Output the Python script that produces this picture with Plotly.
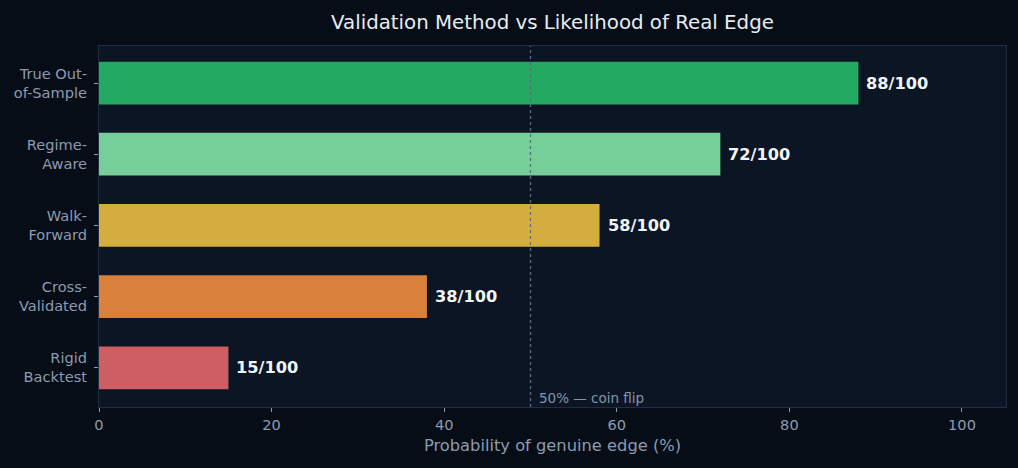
import plotly.graph_objects as go

methods = ["Rigid<br>Backtest", "Cross-<br>Validated", "Walk-<br>Forward", "Regime-<br>Aware", "True Out-<br>of-Sample"]
scores = [15, 38, 58, 72, 88]
colors = ["#cd5f62", "#d9813a", "#d3ae3e", "#76cf98", "#24a962"]
xticks = [0, 20, 40, 60, 80, 100]

FONT = "DejaVu Sans"
TICK = "#8b9bb0"

ypos = list(range(len(methods)))

fig = go.Figure()
fig.add_trace(go.Bar(
    x=scores, y=ypos, orientation="h",
    marker=dict(color=colors, line=dict(width=0)),
    width=0.6, hoverinfo="skip",
))

for yi, v in zip(ypos, scores):
    fig.add_annotation(x=v, y=yi, text=f"<b>{v}/100</b>", showarrow=False,
                       xanchor="left", xshift=6, yanchor="middle",
                       font=dict(family=FONT, size=16.2, color="#f2f5f8"))

fig.add_shape(type="line", x0=50, x1=50, y0=0, y1=1, yref="paper",
              line=dict(color="#5c6b80", width=1.3, dash="dot"))
fig.add_annotation(x=50, y=0, yref="paper", text="50% — coin flip", showarrow=False,
                   xanchor="left", yanchor="bottom", xshift=7, yshift=-1,
                   font=dict(family=FONT, size=13.5, color="#8595aa"))

fig.update_layout(
    width=1018, height=468,
    paper_bgcolor="#070d17", plot_bgcolor="#0b1524",
    margin=dict(l=99, r=12, t=46, b=61),
    showlegend=False, bargap=0.4,
    title=dict(text="Validation Method vs Likelihood of Real Edge",
               x=(99 + 1006) / 2 / 1018, xanchor="center", y=1 - 22 / 468, yanchor="middle",
               font=dict(family=FONT, size=19.8, color="#e6ecf2")),
    font=dict(family=FONT),
    xaxis=dict(range=[0, 105.1], tickvals=xticks, ticks="outside", ticklen=4, tickcolor=TICK,
               tickfont=dict(size=14.6, color=TICK, family=FONT),
               showgrid=False, zeroline=False, showline=True, linecolor="#1f2e42", mirror=True,
               title=dict(text="Probability of genuine edge (%)", standoff=8,
                          font=dict(size=16.3, color=TICK, family=FONT))),
    yaxis=dict(range=[-0.55, 4.52], tickvals=ypos, ticktext=methods, ticks="outside",
               ticklen=4, tickcolor=TICK, tickfont=dict(size=14.6, color=TICK, family=FONT),
               ticklabelstandoff=4,
               showgrid=False, zeroline=False, showline=True, linecolor="#1f2e42", mirror=True),
)

fig.write_html("out.html")
